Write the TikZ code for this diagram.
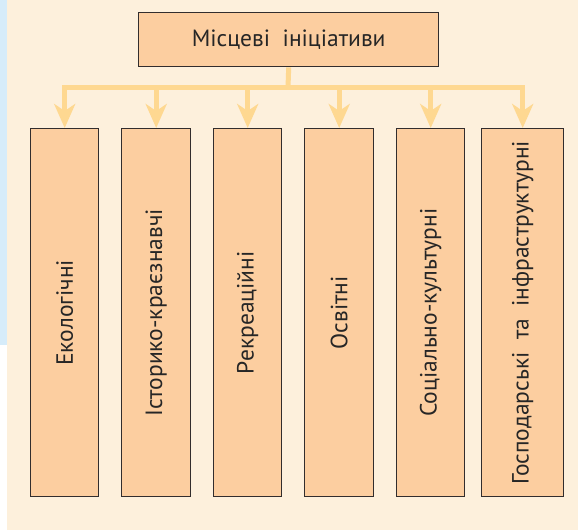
\documentclass[tikz,border=0pt]{standalone}
\usepackage{fontspec}
\setmainfont{PT Sans}
\usetikzlibrary{arrows.meta}
\definecolor{cream}{RGB}{253,240,220}
\definecolor{peach}{RGB}{252,206,160}
\definecolor{arrowc}{RGB}{254,216,145}
\definecolor{stripblue}{RGB}{214,236,250}
\definecolor{edgec}{RGB}{50,45,45}
\tikzset{
  box/.style={draw=edgec, line width=1.4pt, fill=peach, inner sep=0pt, anchor=north west},
  vlabel/.style={rotate=90, font=\fontsize{23.5}{26}\selectfont, text=black!85},
  conn/.style={draw=arrowc, line width=5pt, -{Stealth[length=24pt,width=21pt,inset=7pt]}},
}
\begin{document}
\begin{tikzpicture}[x=1pt,y=-1pt]
\useasboundingbox (0,0) rectangle (578,530);
\fill[cream] (0,0) rectangle (578,530);
\fill[white] (0,345) rectangle (7,530);
\fill[stripblue] (0,0) rectangle (7,345);
\node[box, minimum width=300pt, minimum height=54pt, font=\fontsize{23.5}{26}\selectfont, text=black!85] (top) at (138,12) {Місцеві\ \ ініціативи};
\node[box, minimum width=68pt, minimum height=368pt] (b1) at (30,128) {};
\node[box, minimum width=69pt, minimum height=368pt] (b2) at (121,128) {};
\node[box, minimum width=68pt, minimum height=368pt] (b3) at (213,128) {};
\node[box, minimum width=69pt, minimum height=368pt] (b4) at (304,128) {};
\node[box, minimum width=68pt, minimum height=368pt] (b5) at (396,128) {};
\node[box, minimum width=82pt, minimum height=368pt] (b6) at (481,128) {};
\node[vlabel] (t1) at (b1.center) {Екологічні};
\node[vlabel] (t2) at (b2.center) {Історико-краєзнавчі};
\node[vlabel] (t3) at (b3.center) {Рекреаційні};
\node[vlabel] (t4) at (b4.center) {Освітні};
\node[vlabel] (t5) at (b5.center) {Соціально-культурні};
\node[vlabel] (t6) at (b6.center) {Господарські\ \ та\ \ інфраструктурні};
\coordinate (j) at (288,87.5);
\draw[draw=arrowc, line width=5pt] (top.south) -- (j);
\foreach \b in {b1,b2,b3,b4,b5,b6}{
  \draw[conn] (j) -| (\b.north);
}
\end{tikzpicture}
\end{document}
